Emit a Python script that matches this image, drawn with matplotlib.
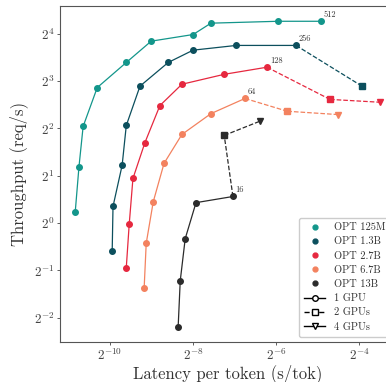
import matplotlib
matplotlib.use("Agg")
import matplotlib.pyplot as plt
from matplotlib.lines import Line2D

plt.rcParams['font.family'] = 'serif'
plt.rcParams['font.serif'] = ['cmr10', 'DejaVu Serif']
plt.rcParams['mathtext.fontset'] = 'cm'
plt.rcParams['axes.formatter.use_mathtext'] = True

models = ["OPT 125M", "OPT 1.3B", "OPT 2.7B", "OPT 6.7B", "OPT 13B"]
colors = ["#13968b", "#0c4f5d", "#e6283f", "#f3825f", "#2b2b2b"]
max_batch_labels = ["512", "256", "128", "64", "16"]

# log2 values (latency s/tok, throughput req/s)
lat_1gpu = [
    [-10.84, -10.75, -10.65, -10.31, -9.61, -9.01, -8.00, -7.57, -5.95, -4.92],
    [-9.95, -9.93, -9.71, -9.61, -9.28, -8.60, -8.00, -6.96, -5.52],
    [-9.61, -9.54, -9.45, -9.16, -8.80, -8.27, -7.25, -6.22],
    [-9.18, -9.13, -8.96, -8.70, -8.27, -7.57, -6.75],
    [-8.36, -8.31, -8.19, -7.93, -7.04],
]
thr_1gpu = [
    [0.24, 1.19, 2.04, 2.86, 3.39, 3.84, 3.98, 4.22, 4.26, 4.26],
    [-0.60, 0.35, 1.22, 2.06, 2.89, 3.39, 3.65, 3.75, 3.75],
    [-0.94, -0.03, 0.94, 1.70, 2.48, 2.93, 3.14, 3.29],
    [-1.38, -0.43, 0.45, 1.26, 1.87, 2.31, 2.63],
    [-2.19, -1.22, -0.33, 0.43, 0.56],
]
lat_2gpu = [None, -3.93, -4.70, -5.73, -7.25]
thr_2gpu = [None, 2.89, 2.61, 2.36, 1.85]
lat_4gpu = [None, None, -3.49, -4.51, -6.39]
thr_4gpu = [None, None, 2.55, 2.29, 2.15]

fig = plt.figure(figsize=(3.86, 3.82), dpi=100)
ax = fig.add_axes([60/386, 40/382, 335.5/386, 336/382])
ax.set_xscale('log', base=2)
ax.set_yscale('log', base=2)

ms = 4
for i, c in enumerate(colors):
    xs = [2**v for v in lat_1gpu[i]]
    ys = [2**v for v in thr_1gpu[i]]
    ax.plot(xs, ys, '-', color=c, lw=0.9, marker='o', ms=ms)
    px, py = xs[-1], ys[-1]
    if lat_2gpu[i] is not None:
        x2, y2 = 2**lat_2gpu[i], 2**thr_2gpu[i]
        ax.plot([px, x2], [py, y2], '--', color=c, lw=0.9)
        ax.plot([x2], [y2], 's', color=c, ms=ms)
        px, py = x2, y2
    if lat_4gpu[i] is not None:
        x4, y4 = 2**lat_4gpu[i], 2**thr_4gpu[i]
        ax.plot([px, x4], [py, y4], '--', color=c, lw=0.9)
        ax.plot([x4], [y4], 'v', color=c, ms=ms)
    ax.annotate(max_batch_labels[i], (xs[-1], ys[-1]), xytext=(2, 3),
                textcoords='offset points', fontsize=6, color='#333333')

ax.tick_params(length=2, width=0.6, labelsize=9.5, colors='#444444', pad=2)
for s in ax.spines.values():
    s.set_color('#555555')
    s.set_linewidth(0.8)
ax.set_xticks([2**-10, 2**-8, 2**-6, 2**-4])
ax.set_yticks([2**-2, 2**-1, 2**0, 2**1, 2**2, 2**3, 2**4])
ax.minorticks_off()
ax.set_xlabel('Latency per token (s/tok)', fontsize=12, color='#333333', labelpad=1)
ax.set_ylabel('Throughput (req/s)', fontsize=12, color='#333333', labelpad=4)

handles = [Line2D([], [], ls='none', marker='o', color=c, ms=3.5) for c in colors]
handles += [
    Line2D([], [], ls='-', color='black', lw=1, marker='o', mfc='white', ms=4),
    Line2D([], [], ls='--', color='black', lw=1, marker='s', mfc='white', ms=4),
    Line2D([], [], ls='-', color='black', lw=1, marker='v', mfc='white', ms=4),
]
labels = models + ["1 GPU", "2 GPUs", "4 GPUs"]
ax.legend(handles, labels, loc='lower right', fontsize=7.5, handlelength=2.0,
          handletextpad=0.8, labelspacing=0.45, borderpad=0.5, framealpha=1,
          edgecolor='#cccccc', fancybox=True, bbox_to_anchor=(1.0, 0.0),
          labelcolor='#333333')

fig.savefig('out.png', dpi=100)
